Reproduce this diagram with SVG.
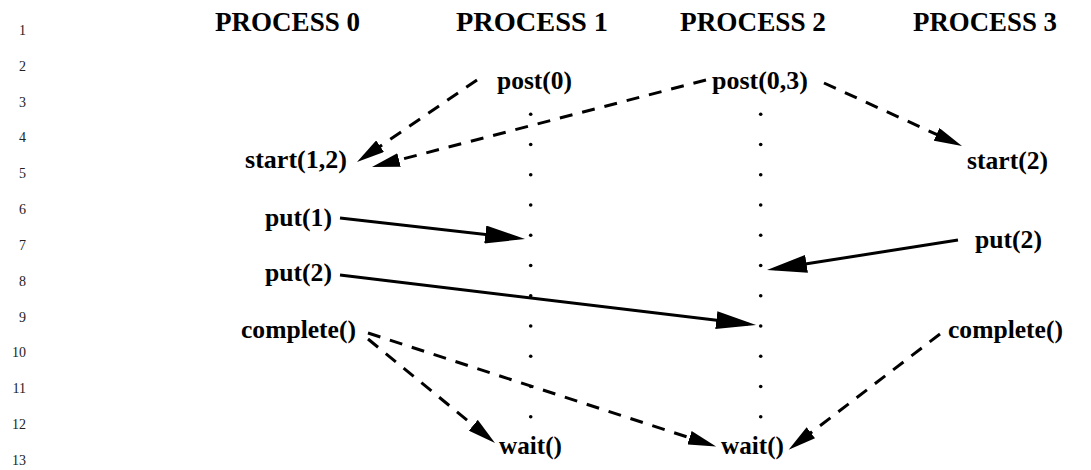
<svg xmlns="http://www.w3.org/2000/svg" width="1091" height="470" viewBox="0 0 1091 470">
<style>
.ln{font-family:"Liberation Serif","Times New Roman",serif;font-size:14px;fill:#222;text-anchor:end}
.hd{font-family:"Liberation Serif","Times New Roman",serif;font-size:27px;font-weight:bold;fill:#000}
.lb{font-family:"Liberation Serif","Times New Roman",serif;font-size:25px;font-weight:bold;fill:#000}
.sol{fill:none;stroke:#000;stroke-width:3}
.dsh{fill:none;stroke:#000;stroke-width:3;stroke-dasharray:13 10}
.dot{fill:#000}
</style>
<defs>
<marker id="ahL" markerUnits="userSpaceOnUse" markerWidth="40" markerHeight="18" refX="32" refY="9" orient="auto"><path d="M0,0 L40,9 L0,18 Z" fill="#000"/></marker>
<marker id="ahS" markerUnits="userSpaceOnUse" markerWidth="28" markerHeight="14" refX="20" refY="7" orient="auto"><path d="M0,0 L28,7 L0,14 Z" fill="#000"/></marker>
</defs>
<rect width="1091" height="470" fill="#fff"/>
<g id="line-numbers">
<text class="ln" x="26" y="35">1</text>
<text class="ln" x="26" y="71">2</text>
<text class="ln" x="26" y="107">3</text>
<text class="ln" x="26" y="142">4</text>
<text class="ln" x="26" y="178">5</text>
<text class="ln" x="26" y="214">6</text>
<text class="ln" x="26" y="250">7</text>
<text class="ln" x="26" y="286">8</text>
<text class="ln" x="26" y="322">9</text>
<text class="ln" x="26" y="357">10</text>
<text class="ln" x="26" y="393">11</text>
<text class="ln" x="26" y="429">12</text>
<text class="ln" x="26" y="465">13</text>
</g>
<g id="headers">
<text class="hd" x="215" y="31" textLength="145" lengthAdjust="spacingAndGlyphs">PROCESS 0</text>
<text class="hd" x="456" y="31" textLength="152" lengthAdjust="spacingAndGlyphs">PROCESS 1</text>
<text class="hd" x="680" y="31" textLength="146" lengthAdjust="spacingAndGlyphs">PROCESS 2</text>
<text class="hd" x="913" y="31" textLength="144" lengthAdjust="spacingAndGlyphs">PROCESS 3</text>
</g>
<g id="timeline-p1">
<circle class="dot" cx="530.7" cy="114.3" r="1.8"/><circle class="dot" cx="530.7" cy="144.5" r="1.8"/><circle class="dot" cx="530.7" cy="174.8" r="1.8"/><circle class="dot" cx="530.7" cy="205" r="1.8"/><circle class="dot" cx="530.7" cy="235.3" r="1.8"/><circle class="dot" cx="530.7" cy="265.5" r="1.8"/><circle class="dot" cx="530.7" cy="295.7" r="1.8"/><circle class="dot" cx="530.7" cy="326" r="1.8"/><circle class="dot" cx="530.7" cy="356.2" r="1.8"/><circle class="dot" cx="530.7" cy="386.5" r="1.8"/><circle class="dot" cx="530.7" cy="416.7" r="1.8"/>
</g>
<g id="timeline-p2">
<circle class="dot" cx="760.7" cy="114.3" r="1.8"/><circle class="dot" cx="760.7" cy="144.5" r="1.8"/><circle class="dot" cx="760.7" cy="174.8" r="1.8"/><circle class="dot" cx="760.7" cy="205" r="1.8"/><circle class="dot" cx="760.7" cy="235.3" r="1.8"/><circle class="dot" cx="760.7" cy="265.5" r="1.8"/><circle class="dot" cx="760.7" cy="295.7" r="1.8"/><circle class="dot" cx="760.7" cy="326" r="1.8"/><circle class="dot" cx="760.7" cy="356.2" r="1.8"/><circle class="dot" cx="760.7" cy="386.5" r="1.8"/><circle class="dot" cx="760.7" cy="416.7" r="1.8"/>
</g>
<g id="p1-post"><text class="lb" x="497" y="89" textLength="75" lengthAdjust="spacingAndGlyphs">post(0)</text></g>
<g id="p2-post"><text class="lb" x="712" y="89" textLength="96" lengthAdjust="spacingAndGlyphs">post(0,3)</text></g>
<g id="p0-start"><text class="lb" x="245" y="168" textLength="102" lengthAdjust="spacingAndGlyphs">start(1,2)</text></g>
<g id="p3-start"><text class="lb" x="967" y="169" textLength="81" lengthAdjust="spacingAndGlyphs">start(2)</text></g>
<g id="p0-put1"><text class="lb" x="265" y="226" textLength="67" lengthAdjust="spacingAndGlyphs">put(1)</text></g>
<g id="p0-put2"><text class="lb" x="265" y="281" textLength="67" lengthAdjust="spacingAndGlyphs">put(2)</text></g>
<g id="p3-put2"><text class="lb" x="975" y="248" textLength="67" lengthAdjust="spacingAndGlyphs">put(2)</text></g>
<g id="p0-complete"><text class="lb" x="241" y="338" textLength="115" lengthAdjust="spacingAndGlyphs">complete()</text></g>
<g id="p3-complete"><text class="lb" x="948" y="338" textLength="115" lengthAdjust="spacingAndGlyphs">complete()</text></g>
<g id="p1-wait"><text class="lb" x="499" y="454" textLength="63" lengthAdjust="spacingAndGlyphs">wait()</text></g>
<g id="p2-wait"><text class="lb" x="721" y="454" textLength="63" lengthAdjust="spacingAndGlyphs">wait()</text></g>
<g id="connectors">
<path class="dsh" d="M477,80 L363.6,157.5" marker-end="url(#ahS)"/>
<path class="dsh" d="M706,80 L379.7,165" marker-end="url(#ahS)"/>
<path class="dsh" d="M824,83 L954.7,142.7" marker-end="url(#ahS)"/>
<path class="sol" d="M340,218 L517.1,238.1" marker-end="url(#ahL)"/>
<path class="sol" d="M340,275 L748.1,324" marker-end="url(#ahL)"/>
<path class="sol" d="M958,240 L774.9,268.8" marker-end="url(#ahL)"/>
<path class="dsh" d="M368,339 L488.8,437.9" marker-end="url(#ahS)"/>
<path class="dsh" d="M368,333 L708.5,443.9" marker-end="url(#ahS)"/>
<path class="dsh" d="M940,334 L795,444.9" marker-end="url(#ahS)"/>
</g>
</svg>
